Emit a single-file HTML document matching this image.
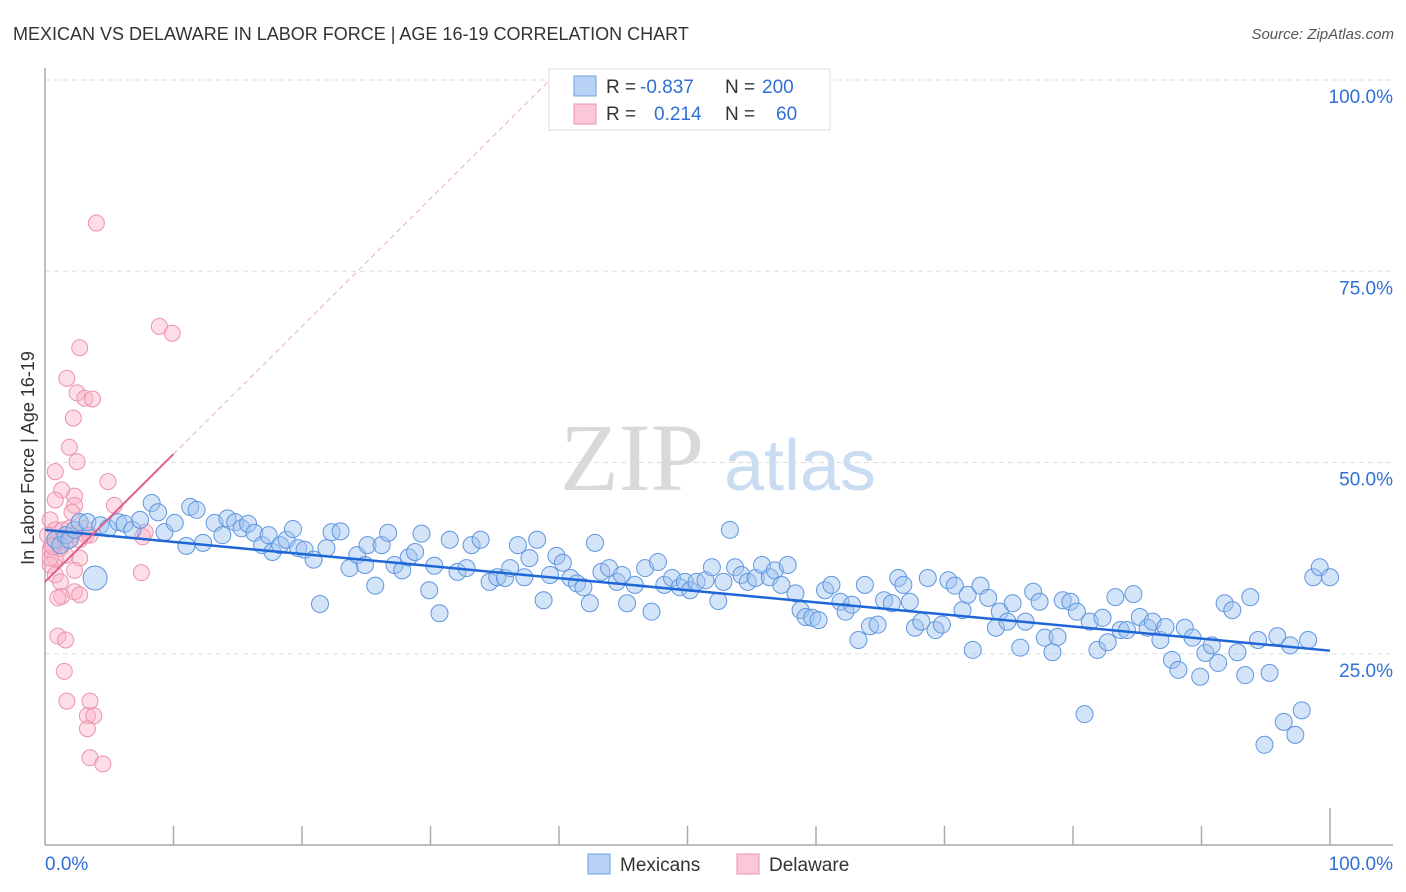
<!DOCTYPE html>
<html><head><meta charset="utf-8">
<style>
body{margin:0;background:#fff;font-family:"Liberation Sans",sans-serif;}
#wrap{position:relative;width:1406px;height:892px;overflow:hidden;}
</style></head>
<body>
<div id="wrap">
<svg id="chart" width="1406" height="892" xmlns="http://www.w3.org/2000/svg">
<text x="13" y="40" font-size="18" fill="#333">MEXICAN VS DELAWARE IN LABOR FORCE | AGE 16-19 CORRELATION CHART</text>
<text x="1394" y="39" font-size="15" fill="#555" font-style="italic" text-anchor="end">Source: ZipAtlas.com</text>
<text transform="translate(34,458) rotate(-90)" font-size="18" fill="#333" text-anchor="middle">In Labor Force | Age 16-19</text>
<g>
<text x="632" y="490" font-size="96" fill="#d9d9d9" font-family="Liberation Serif,serif" text-anchor="middle">ZIP</text>
<text x="800" y="490" font-size="72" fill="#c9dcf2" text-anchor="middle">atlas</text>
</g>
<g id="grid"></g>
<g id="axes"></g>
<g id="pink"></g>
<g id="blue"></g>
<g id="trends"></g>
<g>
<rect x="549" y="69" width="281" height="61" fill="#fff" stroke="#ddd"/>
<rect x="574" y="76" width="22" height="20" fill="#b8d3f5" stroke="#6fa0e0"/>
<rect x="574" y="104" width="22" height="20" fill="#fcc7d6" stroke="#ec93ad"/>
<text x="606" y="93" font-size="19" fill="#333">R =</text>
<text x="640" y="93" font-size="19" fill="#2f6fd6">-0.837</text>
<text x="725" y="93" font-size="19" fill="#333">N =</text>
<text x="762" y="93" font-size="19" fill="#2f6fd6">200</text>
<text x="606" y="120" font-size="19" fill="#333">R =</text>
<text x="654" y="120" font-size="19" fill="#2f6fd6">0.214</text>
<text x="725" y="120" font-size="19" fill="#333">N =</text>
<text x="776" y="120" font-size="19" fill="#2f6fd6">60</text>
</g>
<g>
<rect x="588" y="854" width="22" height="20" fill="#b8d3f5" stroke="#6fa0e0"/>
<text x="620" y="871" font-size="19" fill="#333">Mexicans</text>
<rect x="737" y="854" width="22" height="20" fill="#fcc7d6" stroke="#ec93ad"/>
<text x="769" y="871" font-size="19" fill="#333">Delaware</text>
</g>
</svg>
</div>
<script>
const yTicks=[25,50,75,100];
const yTickLabels=["25.0%","50.0%","75.0%","100.0%"];
const xTickLabels=["0.0%","100.0%"];
const blueX=[3.9,0.8,1.2,1.6,1.9,2.3,2.7,3.3,4.3,4.9,5.7,6.2,6.8,7.4,8.3,8.8,9.3,10.1,11.0,11.3,11.8,12.3,13.2,13.8,14.2,14.8,15.3,15.8,16.3,16.9,17.4,17.7,18.3,18.8,19.3,19.7,20.2,20.9,21.4,21.9,22.3,23.0,23.7,24.3,24.9,25.1,25.7,26.2,26.7,27.2,27.8,28.3,28.8,29.3,29.9,30.7,30.3,31.5,32.1,32.8,33.2,33.9,34.6,35.2,35.8,36.2,36.8,37.3,37.7,38.3,38.8,39.3,39.8,40.3,40.9,41.4,41.9,42.4,42.8,43.3,43.9,44.5,44.9,45.3,45.9,46.7,47.2,47.7,48.2,48.8,49.4,49.8,50.2,50.7,51.4,51.9,52.4,52.8,53.3,53.7,54.2,54.7,55.3,55.8,56.4,56.8,57.3,57.8,58.4,58.8,59.2,59.7,60.2,60.7,61.2,61.9,62.3,62.8,63.3,63.8,64.2,64.8,65.3,65.9,66.4,66.8,67.3,67.7,68.2,68.7,69.3,69.8,70.3,70.8,71.4,71.8,72.2,72.8,73.4,74.0,74.3,74.9,75.3,75.9,76.3,76.9,77.4,77.8,78.4,78.8,79.2,79.8,80.3,80.9,81.3,81.9,82.3,82.7,83.3,83.7,84.2,84.7,85.2,85.8,86.2,86.8,87.2,87.7,88.2,88.7,89.3,89.9,90.3,90.8,91.3,91.8,92.4,92.8,93.4,93.8,94.4,94.9,95.3,95.9,96.4,96.9,97.3,97.8,98.3,98.7,99.2,100];
const blueY=[34.9,39.9,39.2,40.5,39.9,41.2,42.2,42.2,41.8,41.4,42.2,42.0,41.2,42.5,44.7,43.5,40.9,42.1,39.1,44.2,43.8,39.5,42.1,40.5,42.7,42.2,41.4,42.0,40.8,39.2,40.5,38.3,39.2,39.9,41.3,38.8,38.6,37.3,31.5,38.8,40.9,41.0,36.2,37.9,36.6,39.2,33.9,39.2,40.8,36.6,35.9,37.6,38.3,40.7,33.3,30.3,36.5,39.9,35.7,36.2,39.2,39.9,34.4,35.0,34.9,36.2,39.2,35.0,37.5,39.9,32.0,35.3,37.8,36.9,34.9,34.2,33.7,31.6,39.5,35.7,36.2,34.4,35.3,31.6,34.0,36.2,30.5,37.0,34.0,34.9,33.7,34.4,33.3,34.4,34.6,36.3,31.9,34.4,41.2,36.3,35.3,34.4,34.9,36.6,35.0,35.9,34.0,36.6,32.9,30.7,29.8,29.7,29.4,33.3,34.0,31.8,30.5,31.4,26.8,34.0,28.6,28.8,32.0,31.6,34.9,34.0,31.8,28.4,29.2,34.9,28.1,28.8,34.6,33.9,30.7,32.7,25.5,33.9,32.3,28.4,30.5,29.2,31.6,25.8,29.2,33.1,31.8,27.1,25.2,27.2,32.0,31.8,30.5,17.1,29.2,25.5,29.7,26.5,32.4,28.1,28.1,32.8,29.8,28.4,29.2,26.8,28.5,24.2,22.9,28.4,27.1,22.0,25.1,26.1,23.8,31.6,30.7,25.2,22.2,32.4,26.8,13.1,22.5,27.3,16.1,26.1,14.4,17.6,26.8,35.0,36.3,35.0];
const pinkX=[4.0,8.9,9.9,2.7,1.7,2.5,3.1,3.7,2.2,1.9,2.5,0.8,4.9,1.3,2.3,2.3,0.8,2.1,5.4,0.4,0.8,1.0,0.4,0.8,1.2,1.6,2.1,2.7,3.2,7.6,7.8,2.7,0.4,0.8,2.3,1.2,1.3,1.0,2.3,2.7,7.5,1.0,1.6,1.5,1.7,3.5,3.3,3.8,3.3,3.5,4.5,0.2,0.5,1.4,1.9,3.1,3.5,0.4,1.6,0.6];
const pinkY=[81.3,67.8,66.9,65.0,61.0,59.1,58.4,58.3,55.8,52.0,50.1,48.8,47.5,46.4,45.6,44.4,45.1,43.5,44.4,42.5,41.2,39.9,38.6,37.5,38.8,39.6,40.5,39.9,40.5,40.3,40.9,37.5,36.6,35.3,35.9,34.4,32.5,32.3,33.1,32.7,35.6,27.3,26.8,22.7,18.8,18.8,16.9,16.9,15.2,11.4,10.6,40.5,39.2,41.2,41.4,41.4,40.5,37.5,37.9,39.0];
const blueTrend=[41.2,25.4];
const pinkTrend=[34.4,51.1];

const NS="http://www.w3.org/2000/svg";
const X0=45,X1=1330,Y0=845,Y100=80;
function sx(v){return X0+(X1-X0)*v/100;}
function sy(v){return Y0-(Y0-Y100)*v/100;}
function mk(tag,attrs,parent){const e=document.createElementNS(NS,tag);for(const k in attrs)e.setAttribute(k,attrs[k]);parent.appendChild(e);return e;}

const grid=document.getElementById('grid');
yTicks.forEach((t,i)=>{
  const l=mk('line',{x1:X0,x2:1393,y1:sy(t),y2:sy(t),stroke:'#ddd','stroke-dasharray':'5,4'},grid);
  
  
  const tx=mk('text',{x:1393,y:sy(t)+23,'font-size':19,fill:'#2f6fd6','text-anchor':'end'},grid);
  tx.textContent=yTickLabels[i];
  
  
});
const axes=document.getElementById('axes');
let a=mk('line',{x1:X0,x2:X0,y1:68,y2:Y0,stroke:'#aaa','stroke-width':1.5},axes);


a=mk('line',{x1:X0,x2:1393,y1:Y0,y2:Y0,stroke:'#aaa','stroke-width':1.5},axes);


for(let i=1;i<=10;i++){
  const t=mk('line',{x1:sx(i*10),x2:sx(i*10),y1:Y0,y2:i==10?808:826,stroke:'#aaa','stroke-width':1.5},axes);
  
  
}
let xl=mk('text',{x:X0,y:870,'font-size':19,fill:'#2f6fd6'},axes);
xl.textContent=xTickLabels[0];


xl=mk('text',{x:1393,y:870,'font-size':19,fill:'#2f6fd6','text-anchor':'end'},axes);
xl.textContent=xTickLabels[1];



const pg=document.getElementById('pink');
pinkX.forEach((x,i)=>{
  const c=mk('circle',{cx:sx(x),cy:sy(pinkY[i]),r:8,fill:'rgba(250,180,200,0.45)',stroke:'#ec93ad','stroke-width':1},pg);
  
  
});
const bg=document.getElementById('blue');
blueX.forEach((x,i)=>{
  const c=mk('circle',{cx:sx(x),cy:sy(blueY[i]),r:i==0?12:8.5,fill:'rgba(160,195,240,0.45)',stroke:'#5f96e0','stroke-width':1},bg);
  
  
});
const tg=document.getElementById('trends');
let t=mk('line',{x1:sx(0),y1:sy(blueTrend[0]),x2:sx(100),y2:sy(blueTrend[1]),stroke:'#1f66d6','stroke-width':2.5},tg);


t=mk('line',{x1:sx(0),y1:sy(pinkTrend[0]),x2:sx(10),y2:sy(pinkTrend[1]),stroke:'#e0608a','stroke-width':2},tg);


const slope=(pinkTrend[1]-pinkTrend[0])/10;
const xEnd=Math.min(100,(100-pinkTrend[0])/slope);
t=mk('line',{x1:sx(10),y1:sy(pinkTrend[1]),x2:sx(xEnd),y2:sy(pinkTrend[0]+slope*xEnd),stroke:'#eeaabf','stroke-width':1,'stroke-dasharray':'5,4'},tg);


</script>
</body></html>
